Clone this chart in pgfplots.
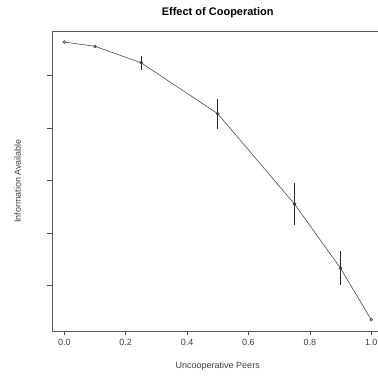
\documentclass[border=0pt]{standalone}
\usepackage{fontspec}
\setmainfont{Liberation Sans}
\usepackage{pgfplots}
\pgfplotsset{compat=1.18}
\begin{document}
\begin{tikzpicture}
\begin{axis}[
  at={(0,0)}, anchor=south west,
  scale only axis,
  width=331.5pt, height=300pt,
  xmin=-0.04, xmax=1.04,
  ymin=0.1333, ymax=5.848,
  xtick={0,0.2,0.4,0.6,0.8,1.0},
  xticklabels={0.0,0.2,0.4,0.6,0.8,1.0},
  ytick={1,2,3,4,5},
  yticklabels={},
  tick align=outside,
  major tick length=4.5pt,
  tick style={color=black!70, line width=0.6pt},
  xtick pos=bottom, ytick pos=left,
  axis line style={color=black!65, line width=0.7pt},
  font=\fontsize{9}{10}\selectfont,
  every x tick label/.append style={anchor=center, yshift=-7.2pt, text=black!75},
  title={\textbf{Effect of Cooperation}},
  title style={at={(0.5,1)}, anchor=center, yshift=12.5pt, font=\fontsize{11}{12}\selectfont},
  xlabel={Uncooperative Peers},
  xlabel style={at={(0.5,0)}, anchor=center, yshift=-35pt, text=black!75},
  ylabel={Information Available},
  ylabel style={at={(0,0.5)}, anchor=center, yshift=34.3pt, text=black!75},
  clip=false,
]
\addplot[color=black!70, line width=0.6pt, mark=o, mark size=1.4pt,
  mark options={solid, color=black!80, line width=0.55pt},
  error bars/.cd, y dir=both, y explicit,
  error bar style={color=black!85, line width=0.7pt},
  error mark=none]
coordinates {
  (0.0,5.638) +- (0,0)
  (0.1,5.556) +- (0,0)
  (0.25,5.244) +- (0,0.13)
  (0.5,4.272) +- (0,0.283)
  (0.75,2.552) +- (0,0.397)
  (0.9,1.328) +- (0,0.32)
  (1.0,0.349) +- (0,0)
};
\end{axis}
\pgfresetboundingbox
\useasboundingbox (-52pt,-46pt) rectangle (326pt,331pt);
\end{tikzpicture}
\end{document}
